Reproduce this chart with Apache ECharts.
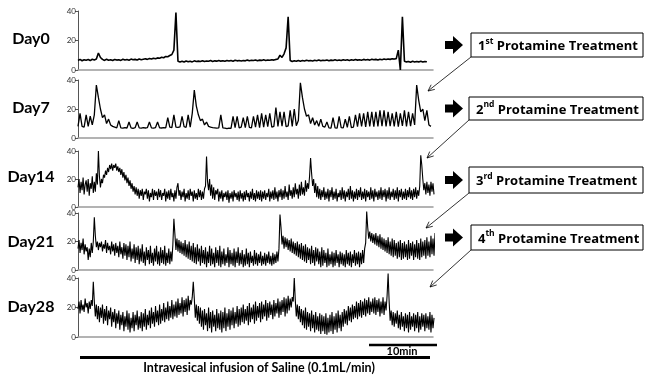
<!DOCTYPE html>
<html><head><meta charset="utf-8">
<script src="https://cdn.jsdelivr.net/npm/echarts@6/dist/echarts.min.js"></script>
<style>html,body{margin:0;padding:0;background:#fff}#c{width:647px;height:377px}</style>
</head><body><div id="c"></div>
<script>
// ---------- data (pressure, cmH2O) ----------
const dayLabels = ['Day0', 'Day7', 'Day14', 'Day21', 'Day28'];
const yTicks = [0, 20, 40];

// Day0 / Day7: one sample per time step
const day0 = [
  6.5, 7.2, 6.3, 7, 6.6, 7.1, 6.4, 7.3, 6.8, 7.4,
  11.5, 8.5, 7.2, 6.5, 7.3, 6.6, 7, 6.4, 7.2, 6.7,
  7, 6.5, 7.3, 6.8, 7.1, 6.6, 7.4, 6.9, 7.2, 6.8,
  7.5, 7, 7.3, 7.6, 7.2, 7.8, 7.4, 8, 7.6, 8.2,
  8, 8.6, 8.3, 9.2, 9, 9.8, 10.5, 13.5,
  39, 6,
  5.5, 6, 5.4, 6.1, 5.6, 6, 5.5, 6.2, 5.7, 6,
  5.8, 6.3, 5.7, 6.1, 5.9, 6.4, 5.8, 6.2, 6, 6.5,
  6, 6.3, 5.9, 6.4, 6.1, 6.5, 6, 6.6, 6.2, 6.4,
  6.1, 6.5, 6.2, 6.7, 6.3, 6.6, 6.4, 6.8, 6.3, 6.7,
  6.5, 6.9, 6.4, 6.8, 6.6, 7, 6.7, 7.2, 7.5, 10,
  8.5, 11, 15, 36, 6.5,
  5.8, 6.3, 5.9, 6.5, 6, 6.4, 6.1, 6.6, 6.2, 6.5,
  6.1, 6.6, 6.3, 6.8, 6.2, 6.6, 6.4, 6.8, 6.3, 6.7,
  6.4, 6.9, 6.5, 6.8, 6.4, 7, 6.6, 6.9, 6.5, 7,
  6.6, 7.1, 6.7, 7, 6.6, 7.2, 6.8, 7.1, 6.7, 7.3,
  6.9, 7.2, 6.8, 7.3, 7, 7.4, 7.1, 7.5, 7.2, 7.6,
  7.4, 7.7, 13.5, 0, 36, 6,
  5.5, 5.8, 5.3, 5.9, 5.4, 5.8, 5.5, 6, 5.4, 5.8, 5.6
];

const day7 = [
  8, 17, 8, 7.5, 16, 8, 15, 9, 16, 36.5,
  28, 20, 14, 16, 10, 13, 9, 8, 7.5, 7,
  12, 7, 6.8, 7.2, 6.9, 11, 7, 6.7, 7.1, 11,
  7, 6.8, 7.2, 6.9, 7.1, 11, 7, 6.8, 7.2, 11,
  7, 6.9, 7.2, 7, 14, 7.5, 7.2, 16, 7.5, 7.3,
  7.6, 15, 7.8, 7.4, 16, 7.5, 17, 33, 22, 16,
  12, 13, 9, 11, 8, 7.5, 7.2, 7, 6.8, 7,
  16, 7, 6.8, 6.5, 6.8, 6.6, 15, 7.2, 15, 7,
  7.5, 14, 7.2, 15, 7.4, 7, 15, 7.5, 16, 7.2,
  17, 7.5, 16, 7.8, 17, 7.5, 8, 21, 8, 18,
  8.2, 18, 7.8, 8.4, 19, 8, 20, 8.5, 12, 38,
  28, 20, 15, 16, 10, 14, 9, 12, 8, 13,
  8, 7.5, 11, 7, 6.8, 14, 7, 6.8, 15, 7.2,
  7, 13, 7.4, 15, 7.2, 7.5, 16, 7.8, 17, 8,
  17, 7.6, 18, 8, 18, 7.8, 18, 8, 19, 8.2,
  19, 8, 18, 8.2, 17, 8, 18, 7.8, 17, 8.4,
  19, 8, 18, 8.2, 17, 9, 36.5, 26, 18, 20,
  12, 19, 9, 8
];

// Day14 / Day21 / Day28: two samples per time step (noisy recordings)
const day14 = [
  14, 20, 10, 18, 12, 21, 9, 16, 19, 11, 20, 8, 17, 13, 22, 10, 18, 11, 24, 16,
  40, 22, 14, 20, 17, 23, 21, 26, 23, 28, 25, 30, 27, 31, 26, 30, 28, 31, 26, 29,
  25, 28, 23, 27, 21, 25, 19, 23, 17, 21, 15, 19, 13, 17, 11, 15, 9, 14, 8, 13,
  6, 12, 8, 13, 5, 11, 9, 13, 6, 12, 4, 10, 7, 13, 5, 12, 8, 11, 5, 13,
  7, 12, 5, 10, 8, 13, 4, 11, 6, 12, 5, 13, 7, 10, 4, 12, 6, 14, 17, 8,
  12, 5, 11, 7, 13, 4, 10, 6, 12, 5, 13, 8, 11, 4, 12, 6, 10, 5, 13, 7,
  12, 5, 11, 6, 13, 15, 36, 18, 12, 20, 8, 16, 6, 14, 5, 12, 9, 13, 4, 11,
  6, 12, 4, 10, 7, 11, 5, 12, 3, 10, 6, 11, 4, 12, 7, 10, 5, 11, 4, 12,
  6, 10, 4, 11, 5, 12, 7, 10, 4, 11, 6, 13, 5, 10, 4, 12, 6, 11, 5, 12,
  4, 11, 6, 12, 5, 10, 7, 13, 4, 11, 6, 12, 5, 14, 6, 11, 4, 12, 7, 13,
  5, 12, 6, 15, 7, 11, 5, 16, 8, 12, 6, 14, 7, 17, 9, 13, 6, 16, 8, 18,
  9, 14, 8, 19, 11, 17, 13, 22, 35, 24, 15, 20, 10, 17, 7, 15, 6, 13, 5, 12,
  7, 14, 5, 11, 6, 13, 4, 12, 7, 14, 5, 11, 6, 13, 4, 10, 7, 12, 5, 14,
  6, 12, 4, 11, 7, 13, 5, 15, 6, 12, 4, 11, 6, 13, 5, 12, 7, 14, 5, 11,
  6, 13, 4, 12, 7, 11, 5, 14, 6, 12, 4, 13, 7, 11, 5, 12, 6, 14, 5, 12,
  7, 13, 4, 12, 6, 14, 5, 11, 7, 13, 5, 12, 6, 14, 4, 12, 7, 13, 5, 11,
  6, 13, 5, 12, 7, 14, 6, 12, 5, 13, 7, 14, 6, 12, 8, 15, 37, 30, 20, 12,
  17, 9, 18, 10, 16, 8, 18, 11, 17, 9
];

const day21 = [
  15, 21, 12, 19, 14, 22, 11, 18, 13, 16, 7, 15, 9, 19, 12, 20, 37, 24, 16, 20,
  14, 19, 16, 20, 13, 18, 15, 21, 12, 19, 14, 17, 11, 20, 13, 18, 10, 19, 12, 17,
  9, 20, 11, 16, 8, 19, 10, 18, 7, 17, 9, 20, 6, 15, 8, 18, 5, 16, 7, 17,
  4, 15, 6, 18, 5, 13, 3, 16, 7, 14, 4, 17, 5, 12, 3, 15, 6, 17, 4, 13,
  3, 16, 5, 14, 4, 17, 3, 12, 5, 15, 4, 13, 6, 18, 36, 25, 14, 22, 13, 21,
  12, 20, 11, 19, 10, 21, 9, 18, 8, 20, 7, 17, 6, 19, 5, 16, 4, 18, 6, 15,
  3, 17, 5, 14, 4, 16, 2, 13, 5, 17, 3, 15, 4, 12, 2, 16, 5, 14, 3, 17,
  2, 13, 4, 15, 3, 11, 5, 16, 2, 14, 4, 12, 3, 15, 2, 13, 5, 16, 3, 12,
  4, 14, 2, 11, 3, 15, 4, 12, 2, 13, 5, 10, 3, 14, 4, 12, 3, 11, 5, 13,
  3, 10, 4, 12, 3, 11, 5, 13, 4, 10, 3, 12, 4, 11, 5, 13, 6, 15, 39, 30,
  18, 24, 15, 23, 16, 22, 14, 21, 13, 22, 12, 20, 11, 19, 10, 20, 9, 18, 8, 19,
  7, 17, 6, 18, 5, 16, 7, 15, 4, 17, 5, 14, 3, 16, 6, 15, 4, 13, 2, 16,
  3, 14, 5, 12, 2, 15, 3, 11, 4, 13, 2, 12, 3, 14, 5, 11, 2, 13, 4, 12,
  3, 11, 2, 14, 4, 12, 3, 13, 2, 11, 5, 14, 3, 12, 4, 13, 2, 12, 4, 14,
  5, 15, 19, 41, 30, 22, 27, 20, 26, 19, 25, 18, 26, 17, 24, 16, 25, 15, 23, 14,
  22, 13, 21, 12, 23, 11, 20, 10, 22, 9, 21, 10, 19, 8, 20, 9, 21, 7, 19, 8,
  20, 9, 18, 7, 21, 8, 19, 10, 20, 7, 18, 9, 21, 8, 19, 7, 22, 9, 20, 10,
  21, 8, 23, 10, 20, 9, 24, 11, 22, 10, 26, 12, 28
];

const day28 = [
  19, 24, 16, 25, 18, 22, 17, 26, 20, 23, 16, 24, 19, 25, 21, 37.5, 24, 14, 22, 12,
  21, 10, 20, 13, 22, 9, 19, 11, 21, 8, 18, 12, 20, 7, 17, 10, 19, 6, 16, 9,
  18, 5, 15, 8, 17, 4, 14, 7, 18, 5, 16, 3, 13, 6, 17, 4, 15, 8, 18, 5,
  14, 6, 17, 4, 16, 7, 19, 5, 15, 8, 18, 6, 20, 9, 17, 7, 21, 10, 18, 8,
  22, 9, 19, 11, 23, 10, 20, 12, 24, 11, 21, 13, 25, 12, 22, 14, 24, 13, 26, 15,
  23, 16, 27, 14, 25, 17, 26, 15, 28, 18, 25, 22, 27, 37.5, 26, 13, 22, 11, 21, 9,
  20, 7, 18, 5, 19, 8, 16, 4, 20, 6, 17, 3, 18, 7, 15, 4, 19, 6, 16, 5,
  18, 3, 17, 6, 20, 4, 16, 7, 19, 5, 18, 8, 20, 6, 17, 9, 21, 7, 19, 8,
  20, 10, 22, 9, 19, 11, 21, 8, 23, 10, 20, 12, 22, 9, 24, 11, 21, 13, 23, 10,
  24, 12, 22, 14, 25, 11, 23, 13, 24, 15, 22, 12, 25, 14, 23, 16, 26, 13, 24, 15,
  25, 17, 27, 14, 26, 16, 28, 18, 26, 20, 27, 24, 40, 25, 14, 22, 12, 21, 10, 19,
  8, 18, 6, 20, 5, 17, 7, 16, 4, 18, 6, 15, 3, 17, 5, 14, 4, 16, 2, 15,
  4, 14, 2, 16, 1.5, 13, 3, 15, 4, 17, 2, 14, 5, 16, 3, 18, 6, 15, 4, 17,
  7, 19, 9, 18, 8, 21, 11, 20, 10, 22, 12, 21, 13, 24, 12, 23, 14, 25, 13, 24,
  15, 26, 14, 25, 16, 27, 15, 24, 17, 26, 16, 27, 15, 25, 17, 26, 14, 24, 16, 27,
  15, 24, 18, 28, 43, 24, 11, 18, 8, 17, 7, 16, 9, 18, 6, 15, 5, 17, 7, 14,
  4, 16, 6, 15, 3, 17, 5, 14, 7, 16, 4, 15, 6, 17, 3, 14, 5, 16, 7, 15,
  4, 16, 6, 14, 5, 17, 3, 15, 6, 13
];

const treatmentOrdinals = ['1', '2', '3', '4'];
const treatmentSuffixes = ['st', 'nd', 'rd', 'th'];
const treatmentText = 'Protamine Treatment';
const scaleLabel = '10min';
const infusionLabel = 'Intravesical infusion of Saline (0.1mL/min)';

// ---------- layout ----------
const traces = [day0, day7, day14, day21, day28];
const samplesPerStep = [1, 1, 2, 2, 2];
const panelTop = [11, 80, 151, 213, 278];
const panelH = [59, 58, 56, 57, 59];
const labelY = [39, 108, 177, 242, 307];
const lineW = [1.6, 1.3, 1.1, 1.1, 1.1];
const gridLeft = 78, gridW = 355, xMax = 174;

const grids = [], xAxes = [], yAxes = [], series = [];
traces.forEach((tr, k) => {
  grids.push({ left: gridLeft, top: panelTop[k], width: gridW, height: panelH[k] });
  xAxes.push({
    gridIndex: k, type: 'value', min: 0, max: xMax,
    axisLine: { show: true, onZero: false, lineStyle: { color: '#9a9a9a', width: 1.5 } },
    axisTick: { show: false }, axisLabel: { show: false }, splitLine: { show: false }
  });
  yAxes.push({
    gridIndex: k, type: 'value', min: yTicks[0], max: yTicks[yTicks.length - 1], interval: yTicks[1] - yTicks[0],
    axisLine: { show: true, lineStyle: { color: '#555', width: 1 } },
    axisTick: { show: true, length: 3, lineStyle: { color: '#555' } },
    axisLabel: { fontSize: 8, color: '#333', margin: 2, fontFamily: 'Lato' },
    splitLine: { show: false }
  });
  series.push({
    type: 'line', xAxisIndex: k, yAxisIndex: k,
    data: tr.map((v, i) => [i / samplesPerStep[k], v]),
    symbol: 'none', clip: false, animation: false,
    lineStyle: { color: '#000', width: lineW[k] }
  });
});

const graphics = [];
dayLabels.forEach((t, k) => {
  graphics.push({ type: 'text', x: 31, y: labelY[k],
    style: { text: t, font: 'bold 16px Lato', fill: '#000', textAlign: 'center', textVerticalAlign: 'middle' } });
});

const boxes = [[471, 33, 172, 24], [469, 97, 174, 23], [469, 167, 174, 26], [471, 225, 172, 25]];
const arrowHeads = [[428, 91], [427, 158], [426, 228], [430, 287]];
boxes.forEach((b, k) => {
  const cy = b[1] + b[3] / 2;
  graphics.push({ type: 'polygon', shape: { points: [[445, cy - 4], [453, cy - 4], [453, cy - 9], [463, cy], [453, cy + 9], [453, cy + 4], [445, cy + 4]] }, style: { fill: '#000' } });
  graphics.push({ type: 'rect', shape: { x: b[0], y: b[1], width: b[2], height: b[3] }, style: { fill: '#fff', stroke: '#000', lineWidth: 1 } });
  graphics.push({ type: 'text', x: b[0] + 7, y: cy,
    style: {
      text: '{n|' + treatmentOrdinals[k] + '}{s|' + treatmentSuffixes[k] + '}{n| ' + treatmentText + '}',
      textVerticalAlign: 'middle', textAlign: 'left',
      rich: {
        n: { font: 'bold 13px "Open Sans"', fill: '#000', lineHeight: 16, verticalAlign: 'bottom' },
        s: { font: 'bold 8.5px "Open Sans"', fill: '#000', lineHeight: 16, verticalAlign: 'top' }
      }
    } });
  const x1 = b[0], y1 = b[1] + b[3], x2 = arrowHeads[k][0], y2 = arrowHeads[k][1];
  const dx = x1 - x2, dy = y1 - y2, L = Math.hypot(dx, dy), ux = dx / L, uy = dy / L;
  const a = 25 * Math.PI / 180, hl = 7;
  const p1 = [x2 + hl * (ux * Math.cos(a) - uy * Math.sin(a)), y2 + hl * (ux * Math.sin(a) + uy * Math.cos(a))];
  const p2 = [x2 + hl * (ux * Math.cos(a) + uy * Math.sin(a)), y2 + hl * (-ux * Math.sin(a) + uy * Math.cos(a))];
  graphics.push({ type: 'line', shape: { x1, y1, x2, y2 }, style: { stroke: '#000', lineWidth: 0.8 } });
  graphics.push({ type: 'polyline', shape: { points: [p1, [x2, y2], p2] }, style: { stroke: '#000', lineWidth: 0.8, fill: null } });
});

graphics.push({ type: 'line', shape: { x1: 369, y1: 345, x2: 437, y2: 345 }, style: { stroke: '#000', lineWidth: 2.5 } });
graphics.push({ type: 'text', x: 402, y: 351, style: { text: scaleLabel, font: 'bold 11px Lato', fill: '#000', textAlign: 'center', textVerticalAlign: 'middle' } });
graphics.push({ type: 'line', shape: { x1: 80, y1: 357.5, x2: 430, y2: 357.5 }, style: { stroke: '#000', lineWidth: 3 } });
graphics.push({ type: 'text', x: 259, y: 368, style: { text: infusionLabel, font: 'bold 12.5px Lato', fill: '#000', textAlign: 'center', textVerticalAlign: 'middle' } });

const chart = echarts.init(document.getElementById('c'), null, { renderer: 'canvas' });
chart.setOption({
  animation: false,
  backgroundColor: '#fff',
  grid: grids, xAxis: xAxes, yAxis: yAxes, series: series,
  graphic: graphics
});
</script>
</body></html>
